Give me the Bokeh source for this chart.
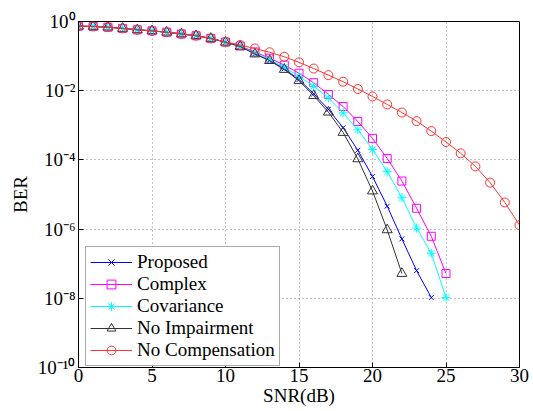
from bokeh.plotting import figure
from bokeh.models import Range1d, FixedTicker, Legend, LegendItem
from bokeh.embed import file_html
from bokeh.resources import INLINE

# ---- data ----
snr_nocomp = list(range(0, 31))
ber_nocomp = [0.733, 0.718, 0.685, 0.631, 0.575, 0.537, 0.49, 0.437, 0.389, 0.324,
              0.257, 0.209, 0.166, 0.129, 0.0955, 0.066, 0.0437, 0.0282, 0.0182, 0.0112,
              6.8e-3, 4.0e-3, 2.34e-3, 1.32e-3, 6.8e-4, 3.3e-4, 1.55e-4, 6.5e-5, 2.2e-5,
              5.9e-6, 1.3e-6]

snr_noimp = list(range(0, 23))
ber_noimp = [0.733, 0.718, 0.685, 0.631, 0.575, 0.537, 0.49, 0.437, 0.389, 0.324,
             0.252, 0.19, 0.115, 0.074, 0.041, 0.0195, 7.2e-3, 2.4e-3, 6.2e-4, 1.07e-4,
             1.26e-5, 9.5e-7, 5.2e-8]

snr_prop = list(range(0, 25))
ber_prop = [0.733, 0.718, 0.685, 0.631, 0.575, 0.537, 0.49, 0.437, 0.389, 0.324,
            0.252, 0.19, 0.117, 0.076, 0.043, 0.021, 8.1e-3, 2.9e-3, 8.5e-4, 1.9e-4,
            3.3e-5, 4.6e-6, 5.2e-7, 6.3e-8, 1.05e-8]

snr_cov = list(range(0, 26))
ber_cov = [0.733, 0.718, 0.685, 0.631, 0.575, 0.537, 0.49, 0.437, 0.389, 0.324,
           0.252, 0.191, 0.123, 0.079, 0.048, 0.026, 0.0135, 6.2e-3, 2.3e-3, 7.4e-4,
           2.0e-4, 4.6e-5, 8.1e-6, 1.07e-6, 2.0e-7, 1.05e-8]

snr_cplx = list(range(0, 26))
ber_cplx = [0.733, 0.718, 0.685, 0.631, 0.575, 0.537, 0.49, 0.437, 0.389, 0.324,
            0.254, 0.195, 0.132, 0.087, 0.055, 0.032, 0.017, 7.8e-3, 3.5e-3, 1.29e-3,
            4.2e-4, 1.1e-4, 2.45e-5, 4.0e-6, 6.2e-7, 5.2e-8]

x_ticks = [0, 5, 10, 15, 20, 25, 30]
y_ticks = [1e-10, 1e-8, 1e-6, 1e-4, 1e-2, 1]
y_tick_labels = ["10⁻¹⁰", "10⁻⁸", "10⁻⁶", "10⁻⁴", "10⁻²", "10⁰"]

FONT = "Liberation Serif"

p = figure(frame_width=441, frame_height=346, y_axis_type="log",
           x_range=Range1d(0, 30), y_range=Range1d(1e-10, 1),
           output_backend="svg", toolbar_location=None,
           min_border_left=78, min_border_right=12, min_border_top=21, min_border_bottom=20)

p.outline_line_color = "black"
p.outline_line_alpha = 1
p.background_fill_color = "white"
p.border_fill_color = "white"

# axes
p.xaxis.ticker = FixedTicker(ticks=x_ticks)
p.yaxis.ticker = FixedTicker(ticks=y_ticks, minor_ticks=[])
p.yaxis.major_label_overrides = {t: l for t, l in zip(y_ticks, y_tick_labels)}
for ax in (p.xaxis[0], p.yaxis[0]):
    ax.major_tick_in = 5
    ax.major_tick_out = 0
    ax.minor_tick_in = 0
    ax.minor_tick_out = 0
    ax.axis_line_color = "black"
    ax.major_tick_line_color = "black"
    ax.major_label_text_font = FONT
    ax.major_label_text_font_size = "19px"
    ax.major_label_text_color = "black"
    ax.axis_label_text_font = FONT
    ax.axis_label_text_font_size = "19px"
    ax.axis_label_text_font_style = "normal"
    ax.axis_label_text_color = "black"
p.xaxis.axis_label = "SNR(dB)"
p.yaxis.axis_label = "BER"
p.xaxis.major_label_standoff = 1
p.xaxis.axis_label_standoff = 0
p.yaxis.major_label_standoff = 3
p.yaxis.axis_label_standoff = 4

# grid
for g in (p.xgrid[0], p.ygrid[0]):
    g.grid_line_color = "#888888"
    g.grid_line_dash = "1 3"
    g.grid_line_width = 1
p.ygrid.ticker = FixedTicker(ticks=y_ticks, minor_ticks=[])
p.xgrid.ticker = FixedTicker(ticks=x_ticks)

series = [
    ("Proposed", snr_prop, ber_prop, "#0000FF", "x", 7),
    ("Complex", snr_cplx, ber_cplx, "#FF00FF", "square", 8),
    ("Covariance", snr_cov, ber_cov, "#00FFFF", "asterisk", 9),
    ("No Impairment", snr_noimp, ber_noimp, "#333333", "triangle", 10),
    ("No Compensation", snr_nocomp, ber_nocomp, "#FF3333", "circle", 9),
]

items = []
for name, xs, ys, col, mk, sz in series:
    r1 = p.line(xs, ys, line_color=col, line_width=1)
    r2 = p.scatter(xs, ys, marker=mk, size=sz, line_color=col, fill_color=None, line_width=1)
    items.append(LegendItem(label=name, renderers=[r1, r2]))

legend = Legend(items=items, location=(7, 1))
legend.label_text_font = FONT
legend.label_text_font_size = "19px"
legend.label_text_color = "black"
legend.border_line_color = "#555555"
legend.border_line_width = 1
legend.background_fill_color = "white"
legend.background_fill_alpha = 1
legend.glyph_width = 42
legend.glyph_height = 22
legend.label_height = 22
legend.label_standoff = 5
legend.spacing = 0
legend.padding = 4
legend.margin = 0
p.add_layout(legend)

open("out.html", "w").write(file_html(p, INLINE))
